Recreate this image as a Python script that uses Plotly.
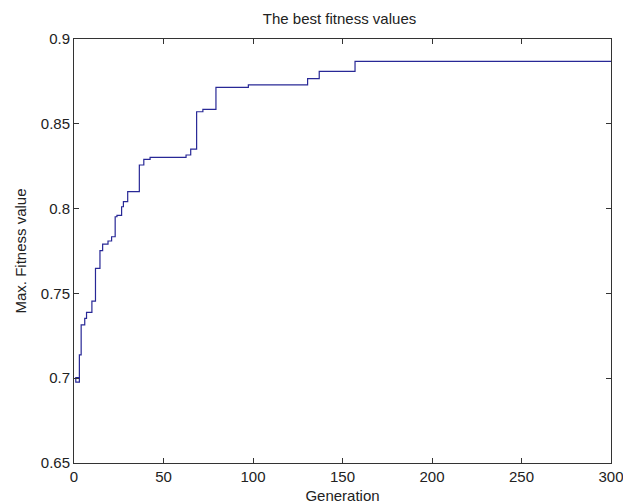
import plotly.graph_objects as go

# Generation at which each best-fitness level starts (stair plot)
generations = [3, 1, 1, 3, 4, 6, 7, 10, 12, 14.5, 16, 19, 21, 23, 24, 26.6, 27.6, 30, 36.5, 39, 42.5,
               62.6, 65.2, 68.5, 72, 79.3, 97.4, 130.5, 137, 157, 300]
best_fitness = [0.7003, 0.7003, 0.6977, 0.7137, 0.7314, 0.7353, 0.7388, 0.7455, 0.7648, 0.7752,
                0.7791, 0.7809, 0.7834, 0.7952, 0.7960, 0.8011, 0.8041, 0.8100, 0.8257, 0.8290,
                0.8302, 0.8316, 0.8351, 0.8571, 0.8585, 0.8715, 0.8729, 0.8766, 0.8809, 0.8868, 0.8868]

x_ticks = [0, 50, 100, 150, 200, 250, 300]
y_ticks = [0.65, 0.7, 0.75, 0.8, 0.85, 0.9]
y_tick_labels = ["0.65", "0.7", "0.75", "0.8", "0.85", "0.9"]

fig = go.Figure()
fig.add_trace(go.Scatter(
    x=generations, y=best_fitness, mode="lines",
    line=dict(color="rgb(40,40,150)", width=1.2, shape="hv"),
    showlegend=False, hoverinfo="skip",
))

font = dict(family="Liberation Sans, Arial, sans-serif", size=15, color="#222")
axis_common = dict(
    showgrid=False, zeroline=False, showline=True, linecolor="#333", linewidth=1,
    mirror="ticks", ticks="inside", ticklen=5, tickcolor="#333", tickfont=font,
    automargin=False, ticklabeloverflow="allow",
)
fig.update_layout(
    width=623, height=504,
    margin=dict(l=74, r=12, t=39, b=41),
    paper_bgcolor="white", plot_bgcolor="white",
    title=dict(text="The best fitness values", x=0.545, xanchor="center", y=0.962, yanchor="middle",
               font=font),
    xaxis=dict(range=[0, 300], tickvals=x_ticks, title=dict(text="Generation", font=font, standoff=7),
               **axis_common),
    yaxis=dict(range=[0.65, 0.9], tickvals=y_ticks, ticktext=y_tick_labels,
               title=dict(text="Max. Fitness value", font=font, standoff=10), **axis_common),
)

fig.write_html("out.html", config={"displayModeBar": False},
               post_script="document.body.style.margin='0';")
